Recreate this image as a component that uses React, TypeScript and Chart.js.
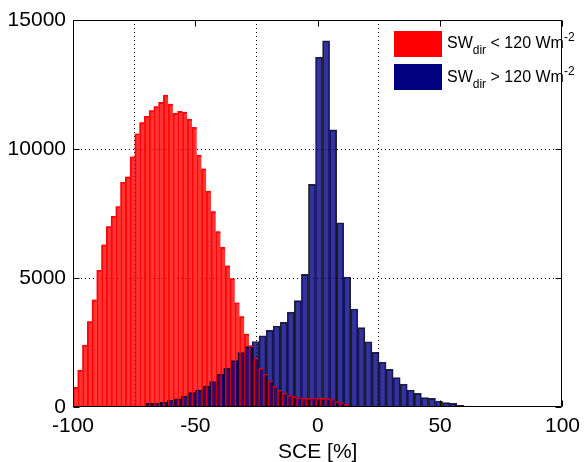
import React, { useEffect, useRef } from 'react';
import { Chart, registerables } from 'chart.js';

Chart.register(...registerables);

// Histogram bin definitions (SCE in %)
const RED_BIN_START = -100;
const RED_BIN_WIDTH = 1.944;
const BLUE_BIN_START = -75.9;
const BLUE_BIN_WIDTH = 2.884;

// Counts for SW_dir < 120 Wm^-2
const RED_COUNTS = [
  760, 1430, 2400, 3310, 4150, 5300, 6290, 6990, 7390, 7770,
  8710, 8920, 9700, 10590, 11020, 11270, 11490, 11640, 11810, 12090,
  11740, 11380, 11460, 11430, 11160, 10840, 9760, 9230, 8370, 7570,
  6800, 6190, 5470, 4980, 4040, 3500, 2830, 2380, 1900, 1500,
  1270, 1010, 800, 650, 540, 450, 410, 365, 345, 336,
  360, 345, 336, 336, 300, 206, 168, 100, 40, 45,
  30, 30, 25, 20, 15, 15, 10, 10, 5,
];

// Counts for SW_dir > 120 Wm^-2
const BLUE_COUNTS = [
  30, 35, 140, 145, 180, 270, 320, 420, 555, 660,
  814, 990, 1267, 1495, 1800, 2105, 2338, 2540, 2760, 2970,
  3140, 3280, 3675, 4120, 5143, 8630, 13550, 14190, 10740, 7140,
  5040, 3800, 3075, 2530, 2120, 1733, 1461, 1137, 891, 659,
  530, 361, 336, 232, 167, 142, 64, 40, 25, 10,
];

const X_TICKS = [-100, -50, 0, 50, 100];
const Y_TICKS = [0, 5000, 10000, 15000];
const X_TITLE = 'SCE [%]';
const LEGEND_ITEMS = [
  { color: '#FF0000', main: 'SW', sub: 'dir', rest: ' < 120 Wm', sup: '-2' },
  { color: '#000080', main: 'SW', sub: 'dir', rest: ' > 120 Wm', sup: '-2' },
];

const FONT = "'Liberation Sans', Arial, Helvetica, sans-serif";

export default function App() {
  const ref = useRef<HTMLCanvasElement>(null);

  useEffect(() => {
    const canvas = ref.current;
    if (!canvas) return;

    const toPoints = (start: number, width: number, counts: number[]) =>
      counts.map((c, i) => ({ x: start + width * (i + 0.5), y: c }));

    const binPx = (chart: any, w: number) => {
      const s = chart.scales && chart.scales.x;
      if (!s || !s.width) return undefined;
      return Math.abs(s.getPixelForValue(w) - s.getPixelForValue(0));
    };

    const framePlugin = {
      id: 'frame',
      afterDatasetsDraw(chart: any) {
        const { ctx, chartArea: a, scales } = chart;
        ctx.save();
        ctx.strokeStyle = '#000';
        ctx.lineWidth = 1;
        const L = Math.round(a.left) + 0.5;
        const R = Math.round(a.right) - 0.5;
        const T = Math.round(a.top) + 0.5;
        const B = Math.round(a.bottom) - 0.5;
        ctx.beginPath();
        ctx.rect(L, T, R - L, B - T);
        ctx.stroke();
        const tl = 6;
        ctx.beginPath();
        X_TICKS.forEach((v) => {
          const px = Math.round(scales.x.getPixelForValue(v)) + 0.5;
          ctx.moveTo(px, B);
          ctx.lineTo(px, B - tl);
          ctx.moveTo(px, T);
          ctx.lineTo(px, T + tl);
        });
        Y_TICKS.forEach((v) => {
          const py = Math.round(scales.y.getPixelForValue(v)) + 0.5;
          ctx.moveTo(L, py);
          ctx.lineTo(L + tl, py);
          ctx.moveTo(R, py);
          ctx.lineTo(R - tl, py);
        });
        ctx.stroke();
        ctx.restore();
      },
    };

    const gridColor = (edgeVals: number[]) => (c: any) =>
      c.tick && edgeVals.includes(c.tick.value) ? 'rgba(0,0,0,0)' : '#000';

    const common = {
      barPercentage: 1,
      categoryPercentage: 1,
      grouped: false,
      xAxisID: 'x',
    };

    const chart = new Chart(canvas, {
      type: 'bar',
      data: {
        datasets: [
          {
            ...common,
            label: 'SWdir < 120',
            data: toPoints(RED_BIN_START, RED_BIN_WIDTH, RED_COUNTS),
            backgroundColor: 'rgba(255,0,0,0.8)',
            borderColor: 'rgba(255,0,0,0.9)',
            borderWidth: { left: 1, right: 0, top: 1, bottom: 0 },
            order: 3,
          } as any,
          {
            ...common,
            label: 'SWdir > 120',
            data: toPoints(BLUE_BIN_START, BLUE_BIN_WIDTH, BLUE_COUNTS),
            backgroundColor: 'rgba(0,0,128,0.8)',
            borderColor: 'rgba(0,0,0,0.85)',
            borderWidth: { left: 1, right: 1, top: 1, bottom: 0 },
            order: 2,
          } as any,
          {
            ...common,
            label: 'outline',
            data: toPoints(RED_BIN_START, RED_BIN_WIDTH, RED_COUNTS),
            backgroundColor: 'rgba(0,0,0,0)',
            borderColor: 'rgba(255,0,0,0.75)',
            borderWidth: { left: 1, right: 0, top: 1, bottom: 0 },
            order: 1,
          } as any,
        ],
      },
      options: {
        animation: false,
        responsive: false,
        devicePixelRatio: 1,
        layout: { padding: { top: 20, right: 17, left: 0, bottom: 0 } },
        plugins: {
          legend: { display: false },
          tooltip: { enabled: false },
        },
        scales: {
          x: {
            type: 'linear',
            min: -100,
            max: 100,
            offset: false,
            afterBuildTicks: (s: any) => {
              s.ticks = X_TICKS.map((v) => ({ value: v }));
            },
            afterFit: (s: any) => {
              s.height = 55;
            },
            ticks: {
              color: '#000',
              font: { family: FONT, size: 21 },
              padding: 7,
              maxRotation: 0,
              autoSkip: false,
              callback: (v: any) => String(v),
            },
            grid: {
              color: gridColor([-100, 100]),
              lineWidth: 1,
              drawTicks: false,
            },
            border: { display: false, dash: [1, 3] },
            title: {
              display: true,
              text: X_TITLE,
              color: '#000',
              font: { family: FONT, size: 21 },
              padding: { top: 0, bottom: -3 },
            },
          } as any,
          y: {
            type: 'linear',
            min: 0,
            max: 15000,
            afterBuildTicks: (s: any) => {
              s.ticks = Y_TICKS.map((v) => ({ value: v }));
            },
            afterFit: (s: any) => {
              s.width = 73;
            },
            ticks: {
              color: '#000',
              font: { family: FONT, size: 21 },
              padding: 7,
              callback: (v: any) => String(v),
            },
            grid: {
              color: gridColor([0, 15000]),
              lineWidth: 1,
              drawTicks: false,
            },
            border: { display: false, dash: [1, 3] },
          } as any,
        },
      },
      plugins: [framePlugin],
    });

    // Bar thickness equals each histogram's bin width, converted through the x scale
    const redPx = binPx(chart, RED_BIN_WIDTH);
    const bluePx = binPx(chart, BLUE_BIN_WIDTH);
    if (redPx && bluePx) {
      (chart.data.datasets[0] as any).barThickness = redPx;
      (chart.data.datasets[1] as any).barThickness = bluePx;
      (chart.data.datasets[2] as any).barThickness = redPx;
      chart.update();
    }

    return () => chart.destroy();
  }, []);

  const textStyle: React.CSSProperties = {
    position: 'absolute',
    left: 447,
    fontFamily: FONT,
    fontSize: 16,
    lineHeight: '18px',
    color: '#000',
    whiteSpace: 'nowrap',
  };

  return (
    <div style={{ position: 'absolute', left: 0, top: 0, width: 587, height: 462, background: '#fff' }}>
      <canvas ref={ref} width={587} height={462} style={{ display: 'block', width: 587, height: 462 }} />
      {LEGEND_ITEMS.map((item, i) => (
        <React.Fragment key={i}>
          <div
            style={{
              position: 'absolute',
              left: 394,
              top: 31 + i * 32.5,
              width: 48,
              height: 26,
              background: item.color,
            }}
          />
          <div style={{ ...textStyle, top: 34 + i * 33.5 }}>
            {item.main}
            <span style={{ fontSize: 12, position: 'relative', top: 6, lineHeight: 0 }}>{item.sub}</span>
            {item.rest}
            <span style={{ fontSize: 12, position: 'relative', top: -7, lineHeight: 0 }}>{item.sup}</span>
          </div>
        </React.Fragment>
      ))}
    </div>
  );
}
